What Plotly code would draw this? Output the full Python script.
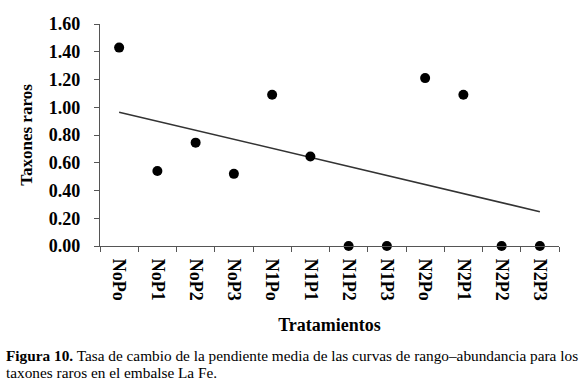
import numpy as np
import plotly.graph_objects as go

categories = ["NoPo", "NoP1", "NoP2", "NoP3", "N1Po", "N1P1", "N1P2", "N1P3", "N2Po", "N2P1", "N2P2", "N2P3"]
taxones_raros = [1.43, 0.54, 0.745, 0.52, 1.09, 0.645, 0.0, 0.0, 1.21, 1.09, 0.0, 0.0]
y_ticks = [0.0, 0.2, 0.4, 0.6, 0.8, 1.0, 1.2, 1.4, 1.6]
y_tick_labels = ["0.00", "0.20", "0.40", "0.60", "0.80", "1.00", "1.20", "1.40", "1.60"]

# linear trend line (least squares on category index)
idx = np.arange(1, len(categories) + 1)
slope, intercept = np.polyfit(idx, taxones_raros, 1)
trend = (slope * idx + intercept).tolist()

SERIF = "Liberation Serif, Times New Roman, serif"

fig = go.Figure()
fig.add_trace(go.Scatter(
    x=categories, y=trend, mode="lines",
    line=dict(color="#333333", width=1.5), showlegend=False, hoverinfo="skip"))
fig.add_trace(go.Scatter(
    x=categories, y=taxones_raros, mode="markers",
    marker=dict(color="black", size=10), showlegend=False, cliponaxis=False))

fig.update_layout(
    width=580, height=387,
    margin=dict(l=100, r=21, t=24, b=141),
    paper_bgcolor="white", plot_bgcolor="white",
    font=dict(family=SERIF, color="black"),
    xaxis=dict(
        type="category", range=[-0.5, 11.5], tickson="boundaries",
        ticks="outside", ticklen=5, tickcolor="#555555", tickwidth=1,
        showline=True, linecolor="#555555", linewidth=1.2,
        showgrid=False, zeroline=False, tickangle=90,
        tickfont=dict(family=SERIF, size=18, color="black", weight="bold"),
        ticklabelstandoff=8,
        title=dict(text="<b>Tratamientos</b>", font=dict(family=SERIF, size=18), standoff=18),
    ),
    yaxis=dict(
        range=[0, 1.6], tickvals=y_ticks, ticktext=y_tick_labels,
        ticks="outside", ticklen=5, tickcolor="#555555", tickwidth=1,
        showline=True, linecolor="#555555", linewidth=1.2,
        showgrid=False, zeroline=False,
        tickfont=dict(family=SERIF, size=18, color="black", weight="bold"),
        ticklabelstandoff=10,
        title=dict(text="<b>Taxones raros</b>", font=dict(family=SERIF, size=17), standoff=11),
    ),
    annotations=[
        dict(text="<b>Figura 10.</b> Tasa de cambio de la pendiente media de las curvas de rango–abundancia para los",
             xref="paper", yref="paper", x=0, y=0, xanchor="left", yanchor="middle",
             xshift=-96, yshift=-109, showarrow=False, font=dict(family=SERIF, size=15.3, color="black")),
        dict(text="taxones raros en el embalse La Fe.",
             xref="paper", yref="paper", x=0, y=0, xanchor="left", yanchor="middle",
             xshift=-96, yshift=-126, showarrow=False, font=dict(family=SERIF, size=15.3, color="black")),
    ],
)

fig.write_html("out.html", config={"displayModeBar": False},
               post_script="document.body.style.margin='0';document.body.style.padding='0';")
